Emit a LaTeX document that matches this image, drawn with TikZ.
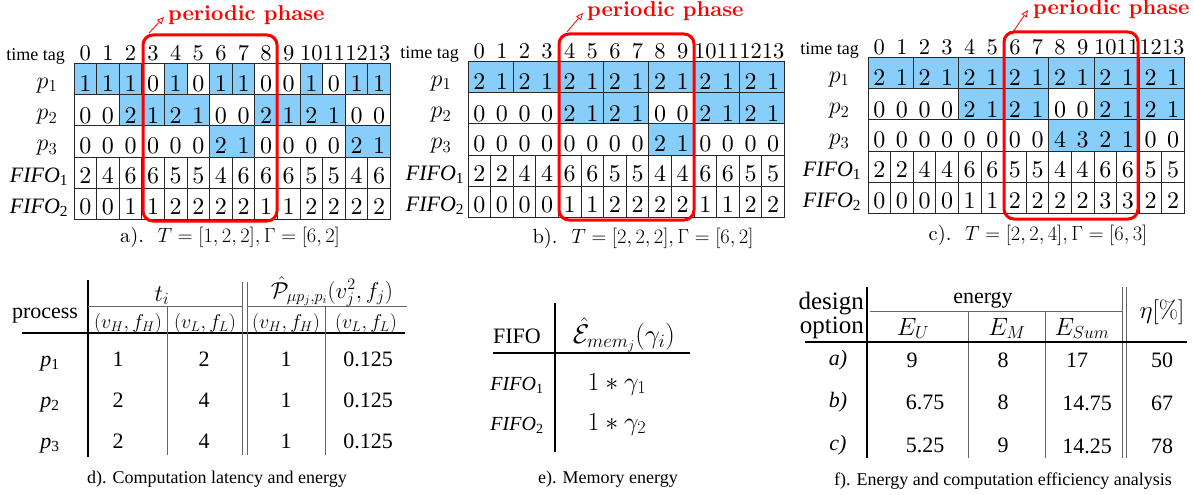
\RequirePackage{fix-cm}
\documentclass[tikz,border=0pt]{standalone}
\usepackage[no-math]{fontspec}
\setmainfont{Liberation Serif}
\newfontfamily\cmr[BoldFont=lmroman10-bold.otf]{lmroman10-regular.otf}
\usetikzlibrary{arrows.meta}
\definecolor{cellblue}{RGB}{135,206,250}
\definecolor{gridline}{RGB}{40,40,40}
\definecolor{tabgray}{RGB}{100,100,100}
\definecolor{phred}{RGB}{255,0,0}
\newcommand{\fs}[1]{\fontsize{#1}{#1}\selectfont}
\def\cw{22.6}
\def\rh{31.3}
\tikzset{
 cellbox/.style={draw=gridline, line width=0.8pt},
 celltxt/.style={anchor=base, inner sep=0pt, font=\cmr\fs{24}},
 tagtxt/.style={anchor=base, inner sep=0pt, font=\cmr\fs{22.5}},
 rowlab/.style={anchor=base, inner sep=0pt, font=\fs{22}},
 plab/.style={anchor=base, inner sep=0pt, font=\fs{24}},
 taglab/.style={anchor=base east, inner sep=0pt, font=\fs{18}},
 phasebox/.style={draw=phred, line width=3pt, rounded corners=10pt},
 phasetxt/.style={anchor=base west, inner sep=0pt, text=phred, font=\cmr\bfseries\fs{21.5}},
 phasearrow/.style={draw=phred, line width=0.8pt, -{Triangle[open,length=7pt,width=6pt]}},
 captxt/.style={anchor=base, inner sep=0pt, font=\cmr\fs{20.5}},
 tabtxt/.style={anchor=base, inner sep=0pt, font=\fs{22}},
 subtxt/.style={anchor=base, inner sep=0pt, font=\fs{20}},
 figcap/.style={anchor=base, inner sep=0pt, font=\fs{18}},
 thickrule/.style={line width=2pt, draw=black},
 thinrule/.style={line width=1pt, draw=tabgray},
}
\newcommand{\segrow}[2]{\foreach \s/\n/\c in {#2}{\path[cellbox, fill=\c] ({\s*\cw},{#1*\rh}) rectangle ({(\s+\n)*\cw},{(#1+1)*\rh});}}
\newcommand{\digrow}[3]{\foreach \v [count=\i from 0] in {#3}{\node[celltxt] at ({(\i+0.5)*\cw},{(#1+1)*\rh-#2}) {\v};}}
\newcommand{\singles}[1]{\foreach \i in {0,...,13}{\path[cellbox, fill=white] ({\i*\cw},{#1*\rh}) rectangle ({(\i+1)*\cw},{(#1+1)*\rh});}}
\newcommand{\labels}[2]{%
 \node[taglab] at (-9,-2.5) {time tag};
 \foreach \v [count=\i from 0] in {0,...,13}{\node[tagtxt] at ({(\i+0.5)*\cw},-2.5) {\v};}
 \node[plab] at (-#1,{\rh-6}) {$p_1$};
 \node[plab] at (-#1,{2*\rh-6}) {$p_2$};
 \node[plab] at (-#1,{3*\rh-6}) {$p_3$};
 \node[rowlab] at (-#2,{4*\rh-6}) {{\itshape FIFO}\textsubscript{1}};
 \node[rowlab] at (-#2,{5*\rh-6}) {{\itshape FIFO}\textsubscript{2}};
}
\begin{document}
\begin{tikzpicture}[x=1pt,y=-1pt]
\useasboundingbox (0,0) rectangle (1194,495);
% ---------------- grid a
\begin{scope}[shift={(74,63)}]
 \segrow{0}{0/1/cellblue,1/1/cellblue,2/1/cellblue,3/1/white,4/1/cellblue,5/1/white,6/1/cellblue,7/1/cellblue,8/1/white,9/1/white,10/1/cellblue,11/1/white,12/1/cellblue,13/1/cellblue}
 \segrow{1}{0/2/white,2/2/cellblue,4/2/cellblue,6/2/white,8/2/cellblue,10/2/cellblue,12/2/white}
 \segrow{2}{0/6/white,6/2/cellblue,8/4/white,12/2/cellblue}
 \singles{3}\singles{4}
 \digrow{0}{2.5}{1,1,1,0,1,0,1,1,0,0,1,0,1,1}
 \digrow{1}{2.5}{0,0,2,1,2,1,0,0,2,1,2,1,0,0}
 \digrow{2}{3}{0,0,0,0,0,0,2,1,0,0,0,0,2,1}
 \digrow{3}{4.5}{2,4,6,6,5,5,4,6,6,6,5,5,4,6}
 \digrow{4}{5}{0,0,1,1,2,2,2,2,1,1,2,2,2,2}
 \labels{27}{35}
\end{scope}
\path[phasebox] (143,35) rectangle (277,221);
\node[phasetxt] (pa) at (168,21) {periodic phase};
\coordinate (pa0) at (149,33);
\coordinate (pa1) at (164,17);
\draw[phasearrow] (pa0) -- (pa1);
\node[captxt] (capa) at (230,242) {a).~~$T=[1,2,2],\Gamma=[6,2]$};
% ---------------- grid b
\begin{scope}[shift={(468,61)}]
 \segrow{0}{0/2/cellblue,2/2/cellblue,4/2/cellblue,6/2/cellblue,8/2/cellblue,10/2/cellblue,12/2/cellblue}
 \segrow{1}{0/4/white,4/2/cellblue,6/2/cellblue,8/2/white,10/2/cellblue,12/2/cellblue}
 \segrow{2}{0/8/white,8/2/cellblue,10/4/white}
 \singles{3}\singles{4}
 \digrow{0}{2.5}{2,1,2,1,2,1,2,1,2,1,2,1,2,1}
 \digrow{1}{2.5}{0,0,0,0,2,1,2,1,0,0,2,1,2,1}
 \digrow{2}{3}{0,0,0,0,0,0,0,0,2,1,0,0,0,0}
 \digrow{3}{4.5}{2,2,4,4,6,6,5,5,4,4,6,6,5,5}
 \digrow{4}{5}{0,0,0,0,1,1,2,2,2,2,1,1,2,2}
 \labels{27}{33}
\end{scope}
\path[phasebox] (559,34) rectangle (694,220);
\node[phasetxt] (pb) at (587,17) {periodic phase};
\coordinate (pb0) at (567,32);
\coordinate (pb1) at (583,13);
\draw[phasearrow] (pb0) -- (pb1);
\node[captxt] (capb) at (643,243) {b).~~$T=[2,2,2],\Gamma=[6,2]$};
% ---------------- grid c
\begin{scope}[shift={(868,57)}]
 \segrow{0}{0/2/cellblue,2/2/cellblue,4/2/cellblue,6/2/cellblue,8/2/cellblue,10/2/cellblue,12/2/cellblue}
 \segrow{1}{0/4/white,4/2/cellblue,6/2/cellblue,8/2/white,10/2/cellblue,12/2/cellblue}
 \segrow{2}{0/8/white,8/4/cellblue,12/2/white}
 \singles{3}\singles{4}
 \digrow{0}{2.5}{2,1,2,1,2,1,2,1,2,1,2,1,2,1}
 \digrow{1}{2.5}{0,0,0,0,2,1,2,1,0,0,2,1,2,1}
 \digrow{2}{3}{0,0,0,0,0,0,0,0,4,3,2,1,0,0}
 \digrow{3}{4.5}{2,2,4,4,6,6,5,5,4,4,6,6,5,5}
 \digrow{4}{5}{0,0,0,0,1,1,2,2,2,2,3,3,2,2}
 \labels{29}{36}
\end{scope}
\path[phasebox] (1004,32) rectangle (1138,219);
\node[phasetxt] (pc) at (1033,15) {periodic phase};
\coordinate (pc0) at (1013,32);
\coordinate (pc1) at (1028,10);
\draw[phasearrow] (pc0) -- (pc1);
\node[captxt] (capc) at (1038,240) {c).~~$T=[2,2,4],\Gamma=[6,3]$};
% ---------------- table d
\draw[thickrule] (88,280) -- (88,457);
\draw[thickrule] (22,333) -- (405,333);
\draw[thinrule] (88,306) -- (242,306);
\draw[thinrule] (247,306) -- (407,306);
\draw[thinrule] (242,282) -- (242,455);
\draw[thinrule] (247,282) -- (247,455);
\draw[thinrule] (167,306) -- (167,455);
\draw[thinrule] (325,306) -- (325,455);
\node[tabtxt] (dproc) at (45,318) {process};
\node[anchor=base, inner sep=0pt, font=\fs{24}] (dti) at (162,301) {$t_i$};
\node[anchor=base, inner sep=0pt, font=\fs{23}] (dP) at (332,298) {$\hat{\mathcal{P}}_{\mu p_j,p_i}(v_j^2,f_j)$};
\node[subtxt] (dh1) at (128,328) {$(v_H,f_H)$};
\node[subtxt] (dh2) at (205,328) {$(v_L,f_L)$};
\node[subtxt] (dh3) at (286,328) {$(v_H,f_H)$};
\node[subtxt] (dh4) at (366,328) {$(v_L,f_L)$};
\foreach \r/\y/\a/\b in {1/366/1/2,2/407/2/4,3/448/2/4}{
 \node[tabtxt] at (50,\y) {{\itshape p}\textsubscript{\r}};
 \node[tabtxt] at (118,\y) {\a};
 \node[tabtxt] at (204,\y) {\b};
 \node[tabtxt] at (286,\y) {1};
 \node[tabtxt] at (368,\y) {0.125};
}
\node[figcap] (capd) at (217,483) {d). Computation latency and energy};
% ---------------- table e
\draw[line width=1.5pt] (555,303) -- (555,452);
\draw[line width=1.5pt] (493,353) -- (690,353);
\node[tabtxt] (efifo) at (517,343) {FIFO};
\node[anchor=base, inner sep=0pt, font=\fs{27}] (eE) at (624,343) {$\hat{\mathcal{E}}_{mem_j}(\gamma_i)$};
\node[anchor=base, inner sep=0pt, font=\fs{20}] (ef1) at (517,390) {{\itshape FIFO}\textsubscript{1}};
\node[anchor=base, inner sep=0pt, font=\fs{26}] (eg1) at (617,390) {$1*\gamma_1$};
\node[anchor=base, inner sep=0pt, font=\fs{20}] (ef2) at (517,430) {{\itshape FIFO}\textsubscript{2}};
\node[anchor=base, inner sep=0pt, font=\fs{26}] (eg2) at (617,430) {$1*\gamma_2$};
\node[figcap] (cape) at (608,483) {e). Memory energy};
% ---------------- table f
\draw[thickrule] (867,287) -- (867,458);
\draw[thinrule] (870,311) -- (1122,311);
\draw[thinrule] (1122,287) -- (1122,458);
\draw[thinrule] (1126,287) -- (1126,458);
\draw[thinrule] (968,311) -- (968,458);
\draw[thinrule] (1045,311) -- (1045,458);
\draw[thickrule] (805,342) -- (1187,342);
\node[anchor=base east, inner sep=0pt, font=\fs{25}] (fdes) at (864,309) {design};
\node[anchor=base east, inner sep=0pt, font=\fs{25}] (fopt) at (864,333) {option};
\node[tabtxt] (fen) at (983,303) {energy};
\node[anchor=base, inner sep=0pt, font=\fs{25}] (feta) at (1162,318) {$\eta[\%]$};
\node[anchor=base, inner sep=0pt, font=\fs{25}] (fEU) at (913,335) {$E_U$};
\node[anchor=base, inner sep=0pt, font=\fs{25}] (fEM) at (1007,335) {$E_M$};
\node[anchor=base, inner sep=0pt, font=\fs{25}] (fES) at (1082,335) {$E_{Sum}$};
\node[tabtxt] at (838,365) {\itshape a)};
\node[tabtxt] at (838,407) {\itshape b)};
\node[tabtxt] at (838,450) {\itshape c)};
\node[tabtxt] at (912,367) {9};
\node[tabtxt] at (925,409) {6.75};
\node[tabtxt] at (925,452) {5.25};
\node[tabtxt] at (1003,367) {8};
\node[tabtxt] at (1003,409) {8};
\node[tabtxt] at (1003,452) {9};
\node[tabtxt] at (1077,367) {17};
\node[tabtxt] at (1087,410) {14.75};
\node[tabtxt] at (1087,453) {14.25};
\node[tabtxt] at (1162,367) {50};
\node[tabtxt] at (1162,410) {67};
\node[tabtxt] at (1162,453) {78};
\node[figcap] (capf) at (1003,485) {f). Energy and computation efficiency analysis};
\end{tikzpicture}
\end{document}
